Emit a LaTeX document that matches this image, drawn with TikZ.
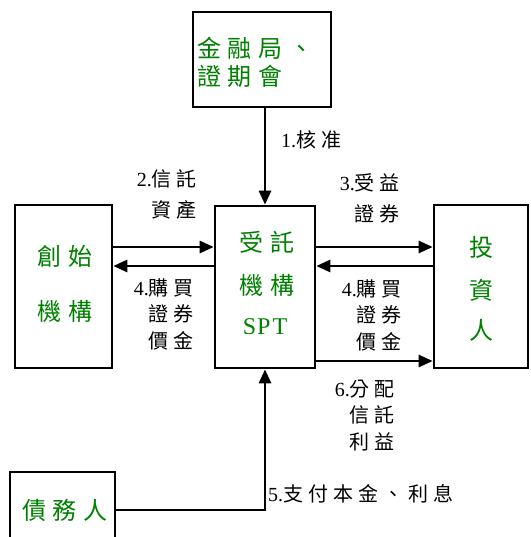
\documentclass[tikz,border=0pt]{standalone}
\usepackage{fontspec}
\setmainfont{Liberation Serif}
\newfontfamily\cjkb[LetterSpace=25]{Noto Sans CJK TC}
\newfontfamily\cjkg[LetterSpace=28]{Noto Sans CJK TC}
\usetikzlibrary{arrows.meta}
\definecolor{tg}{RGB}{0,128,0}
\begin{document}
\begin{tikzpicture}[x=1pt,y=-1pt,
  box/.style={draw,line width=2.6pt,inner sep=0pt},
  arr/.style={line width=2.6pt,-{Triangle[length=14pt,width=12pt]}},
  gtext/.style={text=tg,inner sep=0pt,font=\fontsize{24}{24}\selectfont},
  lbl/.style={inner sep=0pt,align=right,font=\fontsize{20}{26.5}\selectfont},
  lblw/.style={inner sep=0pt,align=right,font=\fontsize{20}{31}\selectfont}]
\useasboundingbox (0,0) rectangle (530,537);
% boxes
\node[box,minimum width=138pt,minimum height=95pt] (jr) at (262,59.5) {};
\node[box,minimum width=100pt,minimum height=162pt] (st) at (265,287) {};
\node[box,minimum width=97pt,minimum height=163pt] (cs) at (63.5,286.5) {};
\node[box,minimum width=94pt,minimum height=163pt] (ti) at (481,286.5) {};
\node[box,minimum width=105pt,minimum height=88pt] (dw) at (62.5,516) {};
% box texts
\node[gtext,anchor=west] (jr1) at (197,48) {\cjkg 金融局、};
\node[gtext,anchor=west] (jr2) at (197,76) {\cjkg 證期會};
\node[gtext] (st1) at (267,242) {\cjkg 受託};
\node[gtext] (st2) at (267,285) {\cjkg 機構};
\node[gtext] (st3) at (265,327) {S\kern1pt P\kern2pt T};
\node[gtext] (cs1) at (65,256) {\cjkg 創始};
\node[gtext] (cs2) at (65,311) {\cjkg 機構};
\node[gtext] (ti1) at (481,247) {\cjkg 投};
\node[gtext] (ti2) at (481,290) {\cjkg 資};
\node[gtext] (ti3) at (481,330) {\cjkg 人};
\node[gtext] (dw1) at (65,510) {\cjkg 債務人};
% connectors
\draw[arr] (jr.south -| st.north) -- (st.north);
\draw[arr] (cs.east |- 0,247) -- (st.west |- 0,247);
\draw[arr] (st.west |- 0,266) -- (cs.east |- 0,266);
\draw[arr] (st.east |- 0,247) -- (ti.west |- 0,247);
\draw[arr] (ti.west |- 0,266) -- (st.east |- 0,266);
\draw[arr] (st.east |- 0,361) -- (ti.west |- 0,361);
\draw[arr] (dw.east |- 0,510) -| (st.south);
% labels (base anchor = baseline of last line)
\node[lbl,anchor=base west] (l1) at (281,148) {1.{\cjkb 核准}};
\node[lblw,anchor=base east] (l2) at (197,217) {2.{\cjkb 信託}\\{\cjkb 資產}};
\node[lbl,anchor=base east] (l4a) at (194,348) {4.{\cjkb 購買}\\{\cjkb 證券}\\{\cjkb 價金}};
\node[lblw,anchor=base east] (l3) at (400,222) {3.{\cjkb 受益}\\{\cjkb 證券}};
\node[lbl,anchor=base east] (l4b) at (402,349) {4.{\cjkb 購買}\\{\cjkb 證券}\\{\cjkb 價金}};
\node[lbl,anchor=base east] (l6) at (395,449) {6.{\cjkb 分配}\\{\cjkb 信託}\\{\cjkb 利益}};
\node[lbl,anchor=base west] (l5) at (268,501) {5.{\cjkb 支付本金、利息}};
\end{tikzpicture}
\end{document}
